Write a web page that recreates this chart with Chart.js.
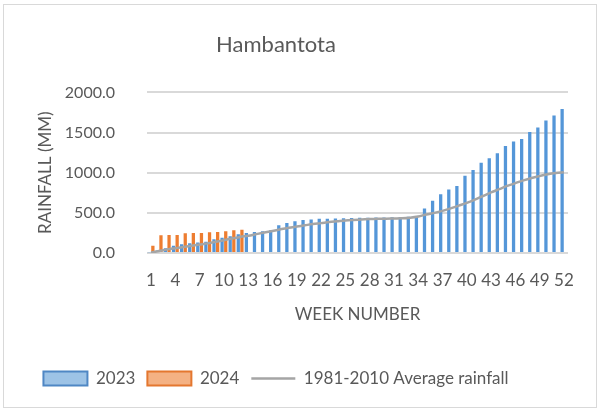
<!DOCTYPE html>
<html>
<head>
<meta charset="utf-8">
<script src="https://cdn.jsdelivr.net/npm/chart.js@4/dist/chart.umd.min.js"></script>
<style>
  html, body { margin: 0; padding: 0; background: #fff; overflow: hidden; }
  body { width: 598px; height: 410px; position: relative; }
  #frame { position: absolute; left: 3px; top: 4px; width: 592px; height: 402px; border: 1px solid #d9d9d9; }
  #wrap { position: absolute; left: -46px; top: 0; width: 644px; height: 410px; }
</style>
</head>
<body>
<div id="frame"></div>
<div id="wrap"><canvas id="rainChart" width="644" height="410"></canvas></div>
<script>
const weeks = ['1','2','3','4','5','6','7','8','9','10','11','12','13','14','15','16','17','18','19','20',
  '21','22','23','24','25','26','27','28','29','30','31','32','33','34','35','36','37','38','39','40',
  '41','42','43','44','45','46','47','48','49','50','51','52'];
const rain2023 = [10, 30, 60, 90, 110, 120, 130, 140, 170, 190, 210, 235,
  250, 262, 271, 284, 346, 375, 396, 410, 417, 425, 428, 430, 432, 435, 438,
  440, 442, 442, 445, 445, 450, 458, 554, 650, 733, 792, 833, 963, 1033, 1125,
  1179, 1242, 1333, 1388, 1421, 1508, 1563, 1650, 1713, 1792];
const rain2024 = [90, 220, 225, 225, 245, 248, 250, 258, 262, 272, 282, 290];
const avgRain = [5, 25, 45, 60, 75, 90, 105, 120, 140, 160, 180, 200, 215, 235, 255, 275, 295, 315, 330, 345,
  360, 372, 385, 395, 405, 412, 418, 422, 425, 428, 430, 432, 440, 455, 480, 500, 525, 555, 590, 625,
  665, 710, 755, 795, 835, 870, 905, 935, 960, 980, 995, 1005];
const yTicks = [0, 500, 1000, 1500, 2000];

const grey = '#595959';
Chart.defaults.font.family = 'Lato, "Open Sans", sans-serif';
Chart.defaults.color = grey;

const ctx = document.getElementById('rainChart').getContext('2d');
const rainChart = new Chart(ctx, {
    type: 'bar',
    data: {
        labels: weeks,
        datasets: [
            {
                label: '2023',
                data: rain2023,
                backgroundColor: '#5496d8',
                categoryPercentage: 0.9,
                barPercentage: 0.9,
                order: 2
            },
            {
                label: '2024',
                data: rain2024,
                backgroundColor: '#ed7d31',
                categoryPercentage: 0.9,
                barPercentage: 0.9,
                order: 2
            },
            {
                type: 'line',
                label: '1981-2010 Average rainfall',
                data: avgRain,
                borderColor: '#a5a5a5',
                borderWidth: 2.5,
                pointRadius: 0,
                cubicInterpolationMode: 'monotone',
                order: 1
            }
        ]
    },
    options: {
        responsive: false,
        animation: false,
        devicePixelRatio: 1,
        // equal side padding so title and legend sit centred where the original has them
        layout: { padding: { left: 30, right: 30, top: 10, bottom: 13 } },
        plugins: {
            title: {
                display: true,
                text: 'Hambantota',
                color: grey,
                font: { size: 22, weight: 'normal' },
                padding: { top: 22, bottom: 34 }
            },
            legend: {
                position: 'bottom',
                labels: {
                    usePointStyle: true,
                    pointStyleWidth: 44,
                    boxHeight: 14,
                    padding: 12,
                    color: grey,
                    font: { size: 17 },
                    generateLabels: function(chart) {
                        return [
                            { text: '2023', fillStyle: '#9dc3e6', strokeStyle: '#4f87c4', lineWidth: 2, pointStyle: 'rect', datasetIndex: 0, fontColor: grey },
                            { text: '2024', fillStyle: '#f4b183', strokeStyle: '#e4772f', lineWidth: 2, pointStyle: 'rect', datasetIndex: 1, fontColor: grey },
                            { text: '1981-2010 Average rainfall', fillStyle: '#a5a5a5', strokeStyle: '#a5a5a5', lineWidth: 2.5, pointStyle: 'line', datasetIndex: 2, fontColor: grey }
                        ];
                    }
                }
            },
            tooltip: { enabled: false }
        },
        scales: {
            x: {
                grid: { display: false },
                border: { display: false },
                ticks: {
                    autoSkip: false,
                    maxRotation: 0,
                    minRotation: 0,
                    padding: 9,
                    color: grey,
                    font: { size: 17 },
                    callback: function(v, i) {
                        return i % 3 === 0 ? this.getLabelForValue(v) : '';
                    }
                },
                title: {
                    display: true,
                    text: 'WEEK NUMBER',
                    color: grey,
                    font: { size: 17 },
                    padding: { top: 4, bottom: 33 }
                },
                afterFit: function(s) { s.height = 105; }
            },
            y: {
                min: 0,
                max: 2000,
                afterBuildTicks: function(s) { s.ticks = yTicks.map(v => ({ value: v })); },
                ticks: {
                    padding: 32,
                    color: grey,
                    font: { size: 16 },
                    callback: v => v.toFixed(1)
                },
                grid: { color: '#d9d9d9', lineWidth: 2, drawTicks: false },
                border: { display: false },
                title: {
                    display: true,
                    text: 'RAINFALL (MM)',
                    color: grey,
                    font: { size: 17 },
                    padding: { top: 51, bottom: 4 }
                },
                afterFit: function(s) { s.width = 163; }
            }
        }
    }
});
</script>
</body>
</html>
